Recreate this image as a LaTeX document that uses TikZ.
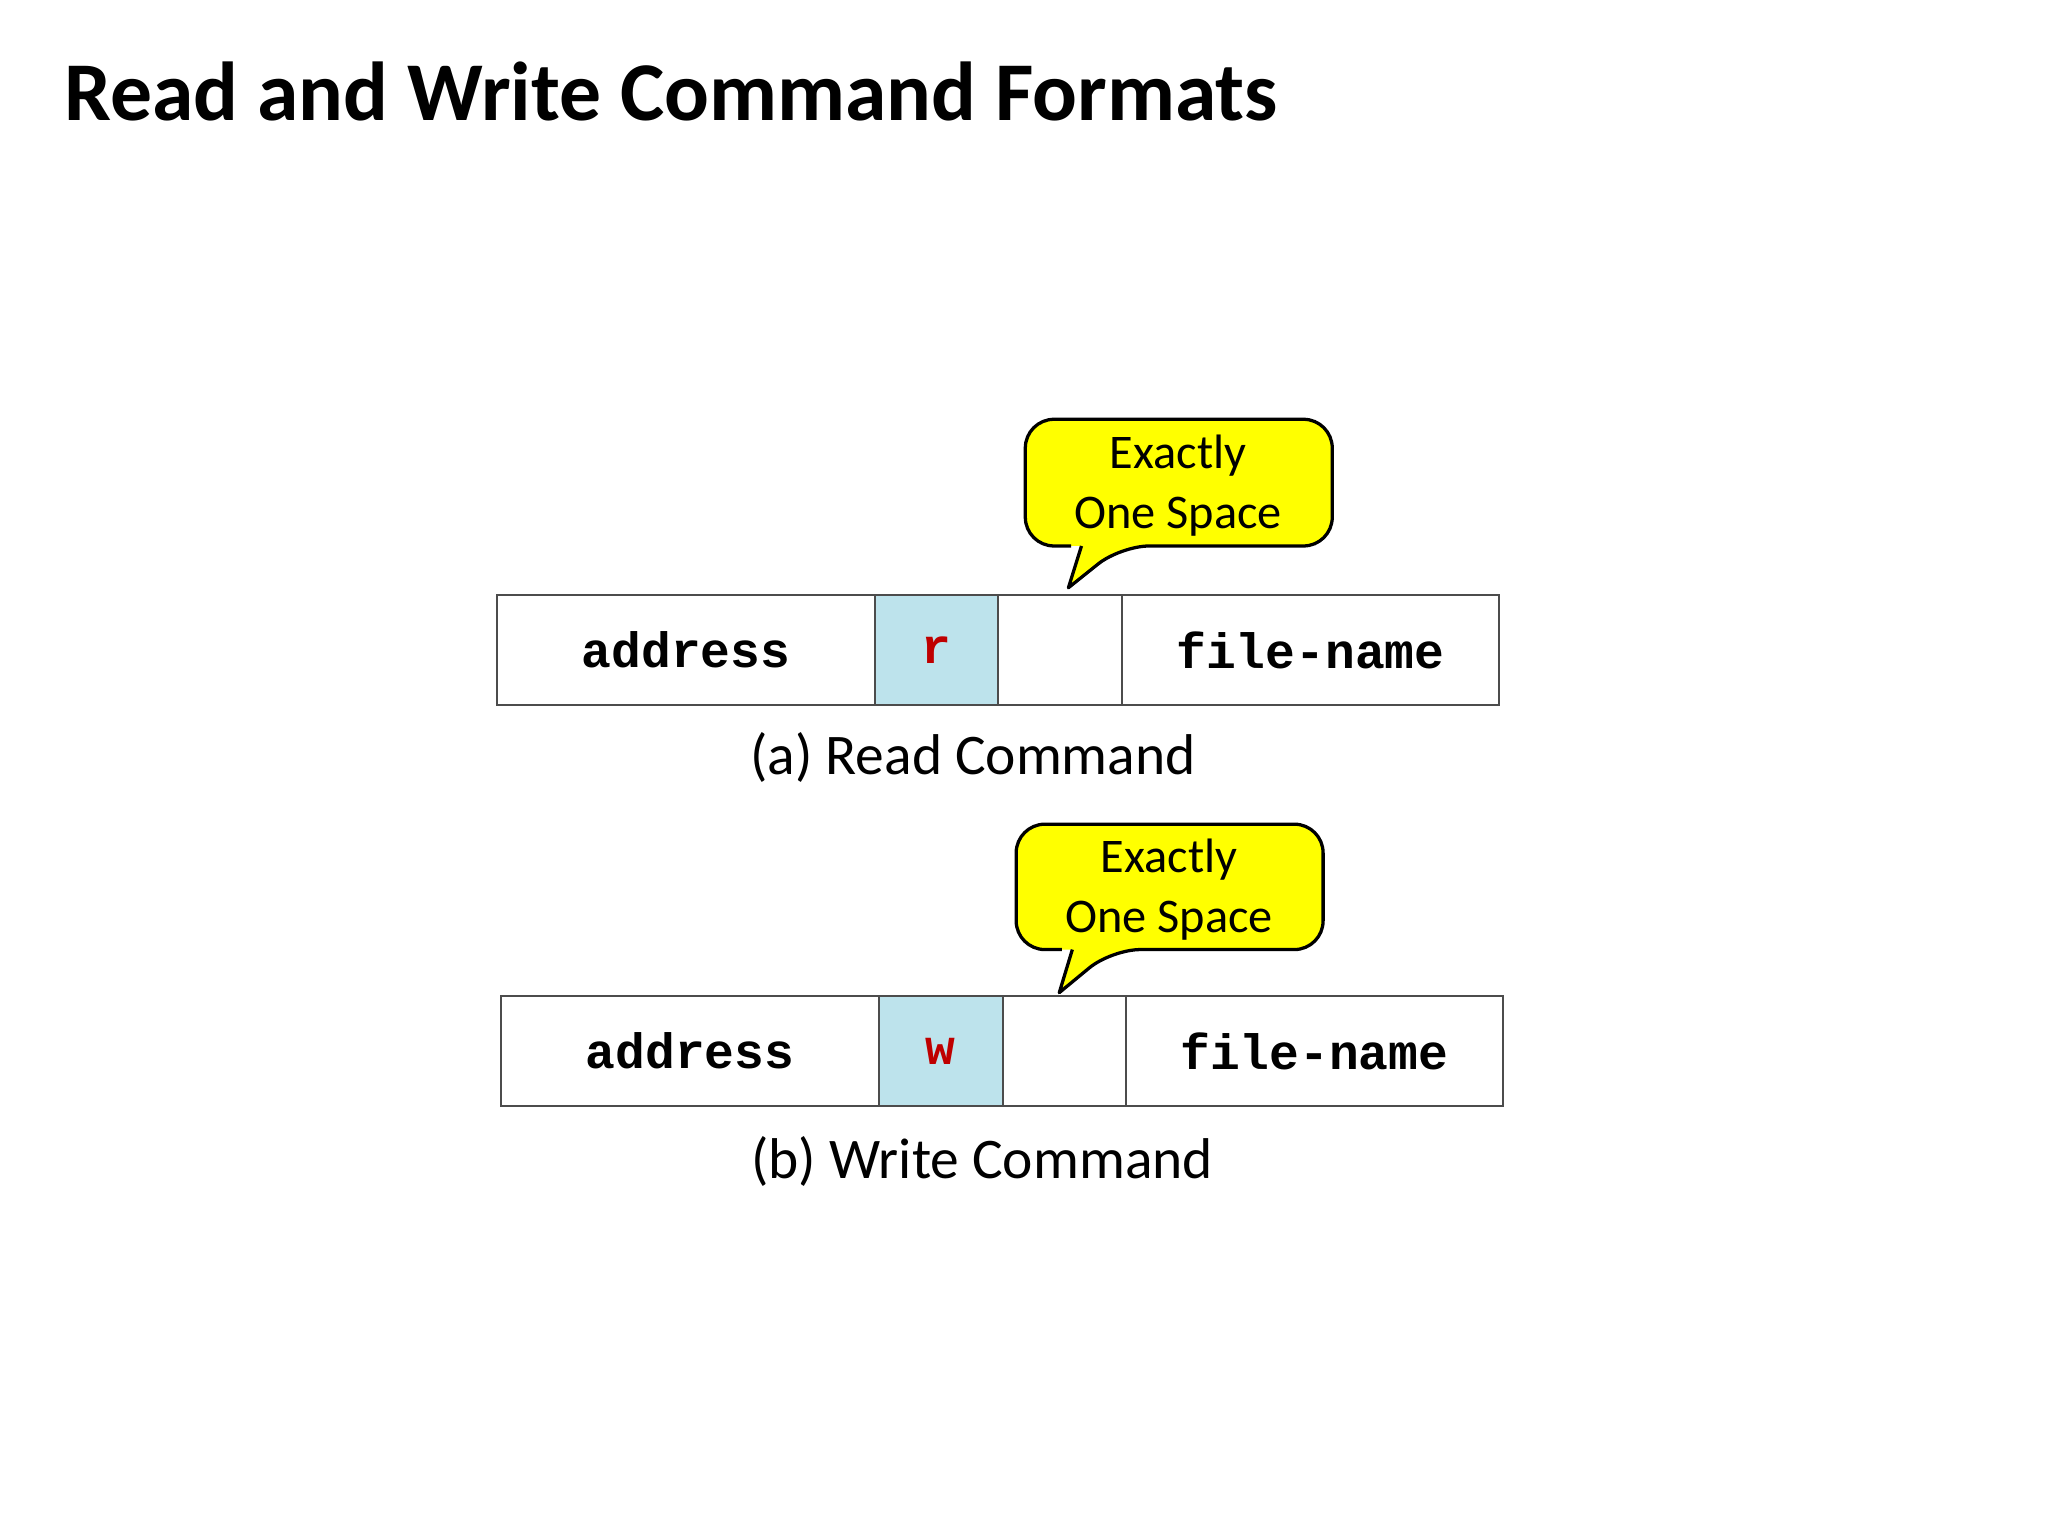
\documentclass[tikz,border=0pt]{standalone}
\usepackage{fontspec}
\setmainfont{Carlito}
\newfontfamily\monob{Liberation Mono}
\definecolor{cellblue}{HTML}{BDE3EC}
\definecolor{bubyellow}{HTML}{FFFF00}
\begin{document}
\begin{tikzpicture}[x=1pt,y=-1pt,
  cell/.style={draw=black!70,line width=1.5pt,minimum height=84pt,inner sep=0pt,anchor=north west},
  mono/.style={font=\monob\bfseries\fontsize{38}{40}\selectfont},
  captxt/.style={font=\fontsize{44}{48}\selectfont},
  bub/.style={fill=bubyellow,draw=black,line width=2.5pt,line join=round},
  bubtxt/.style={font=\fontsize{37}{46}\selectfont,align=center}]
\useasboundingbox (0,0) rectangle (1568,1176);
\node[anchor=base west,font=\bfseries\fontsize{64}{70}\selectfont] (title) at (46,92) {Read and Write Command Formats};
% row a
\node[cell,minimum width=289pt,mono] (a1) at (380,455) {address};
\node[cell,minimum width=94pt,fill=cellblue,mono,text=red!75!black] (a2) at (669,455) {r};
\node[cell,minimum width=95pt] (a3) at (763,455) {};
\node[cell,minimum width=289pt,mono] (a4) at (858,455) {file-name};
\node[captxt] (capa) at (745,580) {(a) Read Command};
\draw[bub,rounded corners=22pt] (820,418) -- (785,418) -- (785,321) -- (1020,321) -- (1020,418) -- (858,418) [sharp corners] -- (818,450) -- (828,418);
\node[bubtxt] (ta) at (902,372) {Exactly\\One Space};
% row b
\node[cell,minimum width=289pt,mono] (b1) at (383,762) {address};
\node[cell,minimum width=95pt,fill=cellblue,mono,text=red!75!black] (b2) at (672,762) {w};
\node[cell,minimum width=94pt] (b3) at (767,762) {};
\node[cell,minimum width=289pt,mono] (b4) at (861,762) {file-name};
\node[captxt] (capb) at (752,889) {(b) Write Command};
\draw[bub,rounded corners=22pt] (813,727) -- (778,727) -- (778,631) -- (1013,631) -- (1013,727) -- (851,727) [sharp corners] -- (811,760) -- (821,727);
\node[bubtxt] (tb) at (895,681) {Exactly\\One Space};
\end{tikzpicture}
\end{document}
